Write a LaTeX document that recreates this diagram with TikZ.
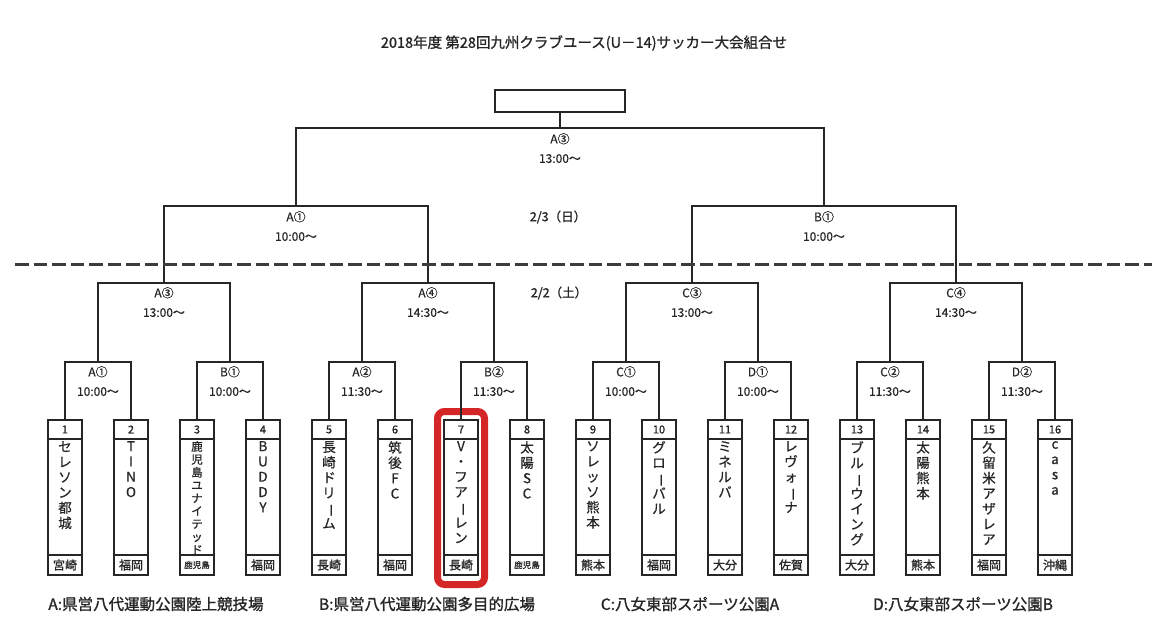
\documentclass[tikz,border=0pt]{standalone}
\usepackage{fontspec}
\usepackage{graphicx}
\setmainfont{Noto Sans CJK JP}
\newfontfamily\jpb{Noto Sans CJK JP}[FakeBold=1.2]
\newfontfamily\jpm{Noto Sans CJK JP}[FakeBold=0.7]
\definecolor{ink}{HTML}{262626}
\definecolor{hlred}{HTML}{D42626}
\newcommand\vbar{\smash{\rotatebox[origin=c]{-90}{ー}}}
% #1 index, #2 x, #3 name, #4 pref, #5 name font, #6 pref font
\newcommand\teambox[6]{%
  \node[numcell] (n#1) at (#2,429.5) {#1};
  \node[namecell] (c#1) at (#2,497) {};
  \node[prefcell] (p#1) at (#2,565) {#6#4};
  \node[nametext,font=#5] (nm#1) at (#2,441) {#3};
}
\begin{document}
\begin{tikzpicture}[x=1pt,y=-1pt,color=ink,
  brk/.style={draw=ink,line width=1.5pt},
  cell/.style={draw=ink,line width=1.5pt,inner sep=0pt,outer sep=0pt,minimum width=34pt},
  numcell/.style={cell,minimum height=19pt,font=\jpb\fontsize{11}{12}\selectfont},
  namecell/.style={cell,minimum height=116pt},
  prefcell/.style={cell,minimum height=20pt,font=\jpb\fontsize{12}{13}\selectfont},
  nametext/.style={anchor=north,align=center,inner sep=0pt},
  mlabel/.style={anchor=north,align=center,inner sep=0pt,font=\jpm\fontsize{12}{19.5}\selectfont},
  daylabel/.style={inner sep=0pt,font=\jpb\fontsize{12.5}{13}\selectfont},
  venue/.style={inner sep=0pt,font=\jpb\fontsize{15.5}{16}\selectfont}]
\fill[white] (0,0) rectangle (1165,640);
\useasboundingbox (0,0) rectangle (1165,640);

\node[inner sep=0pt,font=\jpb\fontsize{14.5}{15}\selectfont] (title) at (584,43)
  {2018年度\ 第28回九州クラブユース(U－14)サッカー大会組合せ};

% teams
\def\nf{\jpm\fontsize{13.5}{15.3}\selectfont}
\def\nfs{\jpm\fontsize{11.5}{12.9}\selectfont}
\def\pfs{\fontsize{8.5}{9}\selectfont}
\teambox{1}{65}{セ\\レ\\ソ\\ン\\都\\城}{宮崎}{\nf}{}
\teambox{2}{131}{T\\I\\N\\O}{福岡}{\nf}{}
\teambox{3}{197}{鹿\\児\\島\\ユ\\ナ\\イ\\テ\\ッ\\ド}{鹿児島}{\nfs}{\pfs}
\teambox{4}{263}{B\\U\\D\\D\\Y}{福岡}{\nf}{}
\teambox{5}{329}{長\\崎\\ド\\リ\\\vbar\\ム}{長崎}{\nf}{}
\teambox{6}{395}{筑\\後\\F\\C}{福岡}{\nf}{}
\teambox{7}{461}{V\\・\\フ\\ア\\\vbar\\レ\\ン}{長崎}{\nf}{}
\teambox{8}{527}{太\\陽\\S\\C}{鹿児島}{\nf}{\pfs}
\teambox{9}{593}{ソ\\レ\\ッ\\ソ\\熊\\本}{熊本}{\nf}{}
\teambox{10}{659}{グ\\ロ\\\vbar\\バ\\ル}{福岡}{\nf}{}
\teambox{11}{725}{ミ\\ネ\\ル\\バ}{大分}{\nf}{}
\teambox{12}{791}{レ\\ヴ\\ォ\\\vbar\\ナ}{佐賀}{\nf}{}
\teambox{13}{857}{ブ\\ル\\\vbar\\ウ\\イ\\ン\\グ}{大分}{\nf}{}
\teambox{14}{923}{太\\陽\\熊\\本}{熊本}{\nf}{}
\teambox{15}{989}{久\\留\\米\\ア\\ザ\\レ\\ア}{福岡}{\nf}{}
\teambox{16}{1055}{c\\a\\s\\a}{沖縄}{\nf}{}

% highlight
\node[draw=hlred,line width=7pt,rounded corners=7pt,minimum width=47pt,minimum height=173pt,inner sep=0pt] (hl) at (461,498) {};

% bracket points
\coordinate (m1) at (98,362);  \coordinate (m2) at (230,362);
\coordinate (m3) at (362,362); \coordinate (m4) at (494,362);
\coordinate (m5) at (626,362); \coordinate (m6) at (758,362);
\coordinate (m7) at (890,362); \coordinate (m8) at (1022,362);
\coordinate (q1) at (164,283); \coordinate (q2) at (428,283);
\coordinate (q3) at (692,283); \coordinate (q4) at (956,283);
\coordinate (s1) at (296,206); \coordinate (s2) at (824,206);
\coordinate (f) at (560,128);
\node[draw=ink,line width=1.5pt,minimum width=130pt,minimum height=22pt,inner sep=0pt] (fin) at (560,101) {};

\draw[brk] (n1.north) |- (m1) -| (n2.north);
\draw[brk] (n3.north) |- (m2) -| (n4.north);
\draw[brk] (n5.north) |- (m3) -| (n6.north);
\draw[brk] (n7.north) |- (m4) -| (n8.north);
\draw[brk] (n9.north) |- (m5) -| (n10.north);
\draw[brk] (n11.north) |- (m6) -| (n12.north);
\draw[brk] (n13.north) |- (m7) -| (n14.north);
\draw[brk] (n15.north) |- (m8) -| (n16.north);
\draw[brk] (m1) |- (q1) -| (m2);
\draw[brk] (m3) |- (q2) -| (m4);
\draw[brk] (m5) |- (q3) -| (m6);
\draw[brk] (m7) |- (q4) -| (m8);
\draw[brk] (q1) |- (s1) -| (q2);
\draw[brk] (q3) |- (s2) -| (q4);
\draw[brk] (s1) |- (f) -| (s2);
\draw[brk] (f) -- (fin.south);

% labels
\node[mlabel] (lm1) at (98,366) {A①\\10:00～};
\node[mlabel] (lm2) at (230,366) {B①\\10:00～};
\node[mlabel] (lm3) at (362,366) {A②\\11:30～};
\node[mlabel] (lm4) at (494,366) {B②\\11:30～};
\node[mlabel] (lm5) at (626,366) {C①\\10:00～};
\node[mlabel] (lm6) at (758,366) {D①\\10:00～};
\node[mlabel] (lm7) at (890,366) {C②\\11:30～};
\node[mlabel] (lm8) at (1022,366) {D②\\11:30～};
\node[mlabel] (lq1) at (164,287) {A③\\13:00～};
\node[mlabel] (lq2) at (428,287) {A④\\14:30～};
\node[mlabel] (lq3) at (692,287) {C③\\13:00～};
\node[mlabel] (lq4) at (956,287) {C④\\14:30～};
\node[mlabel] (ls1) at (296,211) {A①\\10:00～};
\node[mlabel] (ls2) at (824,211) {B①\\10:00～};
\node[mlabel] (lf) at (560,133) {A③\\13:00～};

% day divider
\coordinate (dl) at (15,264); \coordinate (dr) at (1152,264);
\draw[line width=3pt,dash pattern=on 13.5pt off 5pt,color=ink!90] (dl) -- (dr);
\node[daylabel] (d3) at (558,217) {2/3（日）};
\node[daylabel] (d2) at (559,293) {2/2（土）};

% venues
\node[venue] (va) at (156,604) {A:県営八代運動公園陸上競技場};
\node[venue] (vb) at (427,604) {B:県営八代運動公園多目的広場};
\node[venue] (vc) at (690,604) {C:八女東部スポーツ公園A};
\node[venue] (vd) at (963,604) {D:八女東部スポーツ公園B};
\end{tikzpicture}
\end{document}
